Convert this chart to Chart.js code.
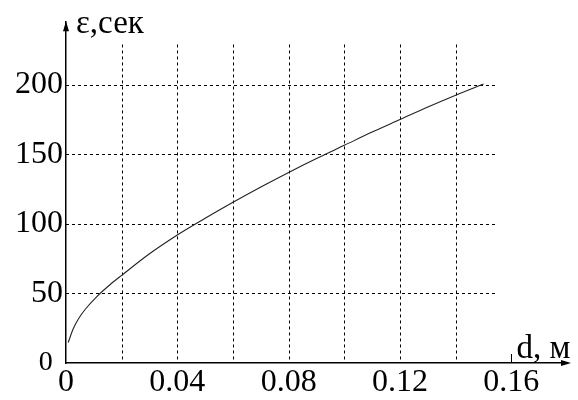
<!DOCTYPE html>
<html>
<head>
<meta charset="utf-8">
<script src="https://cdn.jsdelivr.net/npm/chart.js@4/dist/chart.umd.min.js"></script>
<style>
  html, body { margin: 0; padding: 0; background: #fff; }
  #wrap { width: 578px; height: 400px; position: relative; }
</style>
</head>
<body>
<div id="wrap"><canvas id="chart"></canvas></div>
<script>
// curve: d (m) -> epsilon (s)
const depth = [0.0008, 0.0026, 0.0045, 0.007, 0.011, 0.016, 0.02, 0.03, 0.04, 0.05, 0.06, 0.07, 0.08, 0.09, 0.10, 0.11, 0.12, 0.13, 0.14, 0.15];
const epsilon = [14.7, 24.6, 31.8, 38.8, 47.6, 56.6, 63, 78.5, 92, 104, 115.5, 126.5, 137, 147, 156.5, 166, 175, 184, 192.5, 200.5];

// axes
const xTickValues = [0, 0.04, 0.08, 0.12, 0.16];
const yTickValues = [0, 50, 100, 150, 200];
const xGridValues = [0.02, 0.04, 0.06, 0.08, 0.10, 0.12, 0.14];
const yGridValues = [50, 100, 150, 200];
const gridTop = 229;
const gridRight = 0.1545;
const xTitle = 'd, м';
const yTitle = 'ε,сек';

const serif = "'Liberation Serif', 'Times New Roman', serif";

// dashed grid, arrows and axis titles
const decor = {
    id: 'decor',
    beforeDatasetsDraw(chart) {
        const { ctx, scales: { x, y } } = chart;
        ctx.save();
        ctx.strokeStyle = '#000';
        ctx.lineWidth = 1;
        ctx.setLineDash([3, 3]);
        xGridValues.forEach(v => {
            const px = Math.round(x.getPixelForValue(v)) + 0.5;
            ctx.beginPath();
            ctx.moveTo(px, y.getPixelForValue(gridTop));
            ctx.lineTo(px, y.getPixelForValue(0));
            ctx.stroke();
        });
        yGridValues.forEach(v => {
            const py = Math.round(y.getPixelForValue(v)) + 0.5;
            ctx.beginPath();
            ctx.moveTo(x.getPixelForValue(0), py);
            ctx.lineTo(x.getPixelForValue(gridRight), py);
            ctx.stroke();
        });
        ctx.restore();
    },
    afterDraw(chart) {
        const { ctx, chartArea: a, scales: { x } } = chart;
        ctx.save();
        ctx.fillStyle = '#000';
        ctx.strokeStyle = '#000';
        // y arrow
        ctx.beginPath();
        ctx.moveTo(a.left, a.top - 1);
        ctx.lineTo(a.left - 3, a.top + 9);
        ctx.lineTo(a.left + 3, a.top + 9);
        ctx.closePath();
        ctx.fill();
        // x arrow
        ctx.beginPath();
        ctx.moveTo(a.right + 4, a.bottom);
        ctx.lineTo(a.right - 6, a.bottom - 3);
        ctx.lineTo(a.right - 6, a.bottom + 3);
        ctx.closePath();
        ctx.fill();
        // small mark at 0.16
        const p16 = Math.round(x.getPixelForValue(0.16)) + 0.5;
        ctx.lineWidth = 1;
        ctx.beginPath();
        ctx.moveTo(p16, a.bottom);
        ctx.lineTo(p16, a.bottom - 9);
        ctx.stroke();
        // titles
        ctx.font = '33px ' + serif;
        ctx.textBaseline = 'alphabetic';
        ctx.textAlign = 'left';
        ctx.fillText(yTitle, a.left + 10, a.top + 11);
        ctx.fillText(xTitle, p16 + 5, a.bottom - 5);
        ctx.restore();
    }
};

new Chart(document.getElementById('chart'), {
    type: 'line',
    data: {
        labels: depth,
        datasets: [{
            data: depth.map((d, i) => ({ x: d, y: epsilon[i] })),
            borderColor: '#222',
            borderWidth: 1.1,
            pointRadius: 0,
            cubicInterpolationMode: 'monotone',
            fill: false
        }]
    },
    options: {
        responsive: true,
        maintainAspectRatio: false,
        animation: false,
        layout: { padding: { left: 0, right: 11, top: 17, bottom: 0 } },
        plugins: {
            legend: { display: false },
            tooltip: { enabled: false }
        },
        scales: {
            x: {
                type: 'linear',
                min: 0,
                max: 0.18,
                afterBuildTicks: s => { s.ticks = xTickValues.map(v => ({ value: v })); },
                afterFit: s => { s.height = 37; },
                grid: { display: false, drawTicks: false },
                border: { display: true, color: '#000', width: 1.5 },
                ticks: {
                    autoSkip: false,
                    maxRotation: 0,
                    padding: 0,
                    color: '#000',
                    font: { family: serif, size: 32 },
                    callback: v => String(Number(v.toFixed(2)))
                }
            },
            y: {
                min: 0,
                max: 245,
                afterBuildTicks: s => { s.ticks = yTickValues.map(v => ({ value: v })); },
                afterFit: s => { s.width = 66; },
                grid: { display: false, drawTicks: false },
                border: { display: true, color: '#000', width: 1.5 },
                ticks: {
                    padding: 3,
                    color: '#000',
                    font: c => ({ family: serif, size: c.tick && c.tick.value === 0 ? 28 : 32 }),
                    callback: v => v === 0 ? '0\u2006\u2009' : String(v)
                }
            }
        }
    },
    plugins: [decor]
});
</script>
</body>
</html>
